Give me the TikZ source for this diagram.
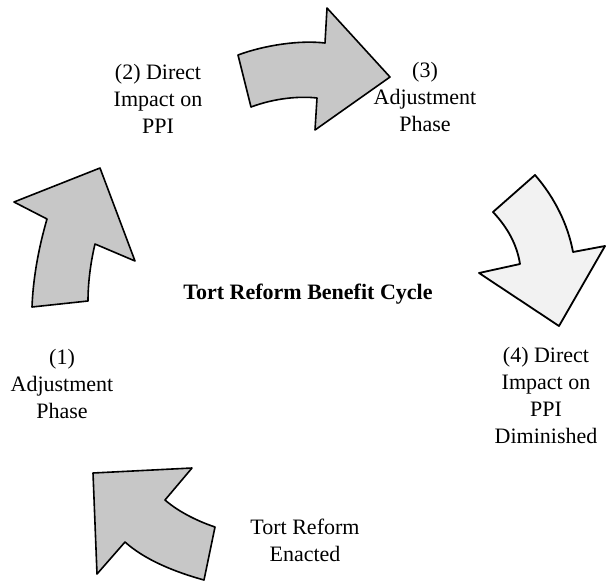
\documentclass[tikz,border=0pt]{standalone}
\usepackage{fontspec}
\setmainfont{Liberation Serif}
\begin{document}
\begin{tikzpicture}[x=1pt,y=-1pt,
  darkarrow/.style={draw=black, line width=1.6pt, line join=round, fill=black!22},
  lightarrow/.style={draw=black, line width=1.8pt, line join=round, fill=black!5},
  lbl/.style={align=center, font=\fontsize{22}{27}\selectfont, inner sep=0pt},
  ttl/.style={font=\fontsize{22}{27}\selectfont\bfseries, inner sep=0pt}]
\useasboundingbox (0,0) rectangle (607,584);
% arrow (1) left, pointing up
\draw[darkarrow] (32,307) .. controls (33,280) and (38,250) .. (47,219)
  -- (14,202) -- (100,168) -- (135,261) -- (95,244)
  .. controls (90,265) and (88,285) .. (88,301) -- cycle;
% arrow (2) top, pointing right
\draw[darkarrow] (238,55) .. controls (265,45) and (300,40) .. (325,43)
  -- (327,8) -- (390,77) -- (315,130) -- (317,98)
  .. controls (300,96) and (275,98) .. (251,107) -- cycle;
% arrow (3) right, pointing down
\draw[lightarrow] (493,212) -- (535,175)
  .. controls (555,198) and (568,225) .. (573,252)
  -- (605,246) -- (559,326) -- (479,273) -- (520,264)
  .. controls (517,245) and (508,228) .. (493,212) -- cycle;
% arrow (4) bottom left, pointing up-left
\draw[darkarrow] (93,473) -- (192,468) -- (165,500)
  .. controls (180,513) and (200,522) .. (215,527)
  -- (204,580) .. controls (175,572) and (145,560) .. (125,542)
  -- (97,574) -- cycle;
% labels
\node[lbl] (p2) at (158,99) {(2) Direct\\Impact on\\PPI};
\node[lbl] (p3) at (425,97) {(3)\\Adjustment\\Phase};
\node[lbl] (p1) at (62,384) {(1)\\Adjustment\\Phase};
\node[lbl] (p4) at (546,395) {(4) Direct\\Impact on\\PPI\\Diminished};
\node[lbl] (p0) at (305,540) {Tort Reform\\Enacted};
\node[ttl] (title) at (308,294) {Tort Reform Benefit Cycle};
\end{tikzpicture}
\end{document}
